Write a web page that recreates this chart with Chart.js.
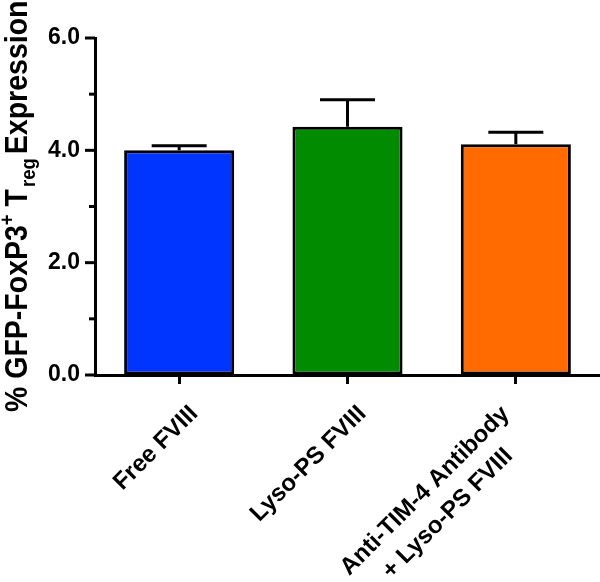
<!DOCTYPE html>
<html lang="en">
<head>
<meta charset="utf-8">
<title>GFP-FoxP3+ Treg Expression</title>
<script src="https://cdn.jsdelivr.net/npm/chart.js@4.4.1/dist/chart.umd.min.js"></script>
<style>
    html, body {
        margin: 0;
        padding: 0;
        background: #ffffff;
    }
    canvas {
        display: block;
    }
</style>
</head>
<body>
<canvas id="tregChart" width="600" height="582"></canvas>
<script>
const categories = [
    ["Free FVIII"],
    ["Lyso-PS FVIII"],
    ["Anti-TIM-4 Antibody", "+ Lyso-PS FVIII"],
];
const meanValues = [4.0, 4.42, 4.11];
const errorValues = [0.08, 0.48, 0.21];
const majorTicks = [0, 2, 4, 6];
const minorTicks = [1, 3, 5];

const FONT = "'Liberation Sans', Arial, Helvetica, sans-serif";

document.addEventListener("DOMContentLoaded", function () {
    const canvas = document.getElementById("tregChart");

    // error bars (upper only) + caps
    const errorBars = {
        id: "errorBars",
        afterDatasetsDraw(chart) {
            const ctx = chart.ctx;
            const y = chart.scales.y;
            const meta = chart.getDatasetMeta(0);
            ctx.save();
            ctx.strokeStyle = "#000000";
            ctx.lineWidth = 3;
            ctx.lineCap = "butt";
            meta.data.forEach((bar, i) => {
                const top = y.getPixelForValue(meanValues[i] + errorValues[i]);
                const base = y.getPixelForValue(meanValues[i]);
                ctx.beginPath();
                ctx.moveTo(bar.x, base);
                ctx.lineTo(bar.x, top);
                ctx.moveTo(bar.x - 27.5, top);
                ctx.lineTo(bar.x + 27.5, top);
                ctx.stroke();
            });
            ctx.restore();
        },
    };

    // y ticks with short minor marks, rotated x labels, rich y title
    const axisDecor = {
        id: "axisDecor",
        afterDraw(chart) {
            const ctx = chart.ctx;
            const x = chart.scales.x;
            const y = chart.scales.y;
            const left = chart.chartArea.left;

            ctx.save();
            ctx.strokeStyle = "#000000";
            ctx.lineWidth = 3;
            majorTicks.forEach((v) => {
                const py = y.getPixelForValue(v);
                ctx.beginPath();
                ctx.moveTo(left - 10, py);
                ctx.lineTo(left, py);
                ctx.stroke();
            });
            minorTicks.forEach((v) => {
                const py = y.getPixelForValue(v);
                ctx.beginPath();
                ctx.moveTo(left - 6, py);
                ctx.lineTo(left, py);
                ctx.stroke();
            });

            ctx.fillStyle = "#000000";
            ctx.font = "bold 24px " + FONT;
            ctx.textBaseline = "middle";
            ctx.textAlign = "center";
            const lineHeight = 32;
            categories.forEach((lines, i) => {
                const px = x.getPixelForValue(i);
                const widths = lines.map((t) => ctx.measureText(t).width);
                const maxW = Math.max(...widths);
                // multi-line labels sit a little back along the slant
                const back = (lines.length - 1) * 18;
                const lift = (lines.length - 1) * 17.5;
                ctx.save();
                ctx.translate(px + 15, chart.chartArea.bottom + 35);
                ctx.rotate(-Math.PI / 4);
                lines.forEach((t, j) => {
                    ctx.fillText(t, -back - maxW / 2, j * lineHeight - lift);
                });
                ctx.restore();
            });

            // y axis title, runs to the top edge like the original
            const size = 28.5;
            const parts = [
                { text: "% GFP-FoxP3", scale: 1, shift: 0, gap: 0 },
                { text: "+", scale: 0.65, shift: -0.42, gap: 0 },
                { text: " T", scale: 1, shift: 0, gap: 0 },
                { text: "reg", scale: 0.65, shift: 0.24, gap: 2 },
                { text: "Expression", scale: 1, shift: 0, gap: 4 },
            ];
            ctx.translate(27, 412);
            ctx.scale(1.1, 1);
            ctx.rotate(-Math.PI / 2);
            ctx.textAlign = "left";
            ctx.textBaseline = "alphabetic";
            let cursor = 0;
            parts.forEach((p) => {
                cursor += p.gap;
                ctx.font = "bold " + size * p.scale + "px " + FONT;
                ctx.fillText(p.text, cursor, p.shift * size);
                cursor += ctx.measureText(p.text).width;
            });
            ctx.restore();
        },
    };

    new Chart(canvas.getContext("2d"), {
        type: "bar",
        data: {
            labels: categories,
            datasets: [
                {
                    data: meanValues,
                    backgroundColor: ["#0035ff", "#008b00", "#ff6b00"],
                    borderColor: "#000000",
                    borderWidth: 3,
                    borderSkipped: false,
                    barPercentage: 0.654,
                    categoryPercentage: 1,
                },
            ],
        },
        options: {
            responsive: false,
            animation: false,
            devicePixelRatio: 1,
            layout: {
                padding: { top: 38, right: 0, bottom: 0, left: 0 },
            },
            plugins: {
                legend: { display: false },
                tooltip: { enabled: false },
            },
            scales: {
                x: {
                    offset: true,
                    afterFit: (scale) => {
                        scale.height = 207;
                    },
                    grid: {
                        offset: false,
                        drawOnChartArea: false,
                        drawTicks: true,
                        tickLength: 9,
                        tickWidth: 3,
                        tickColor: "#000000",
                    },
                    border: { display: true, color: "#000000", width: 3 },
                    ticks: { display: false },
                },
                y: {
                    min: 0,
                    max: 6,
                    afterFit: (scale) => {
                        scale.width = 95;
                    },
                    grid: {
                        drawOnChartArea: false,
                        drawTicks: false,
                    },
                    border: { display: true, color: "#000000", width: 3 },
                    ticks: {
                        stepSize: 1,
                        padding: 15,
                        color: "#000000",
                        font: { family: FONT, size: 23, weight: "bold" },
                        callback: (value) =>
                            majorTicks.includes(value) ? value.toFixed(1) : "",
                    },
                },
            },
        },
        plugins: [errorBars, axisDecor],
    });
});
</script>
</body>
</html>
